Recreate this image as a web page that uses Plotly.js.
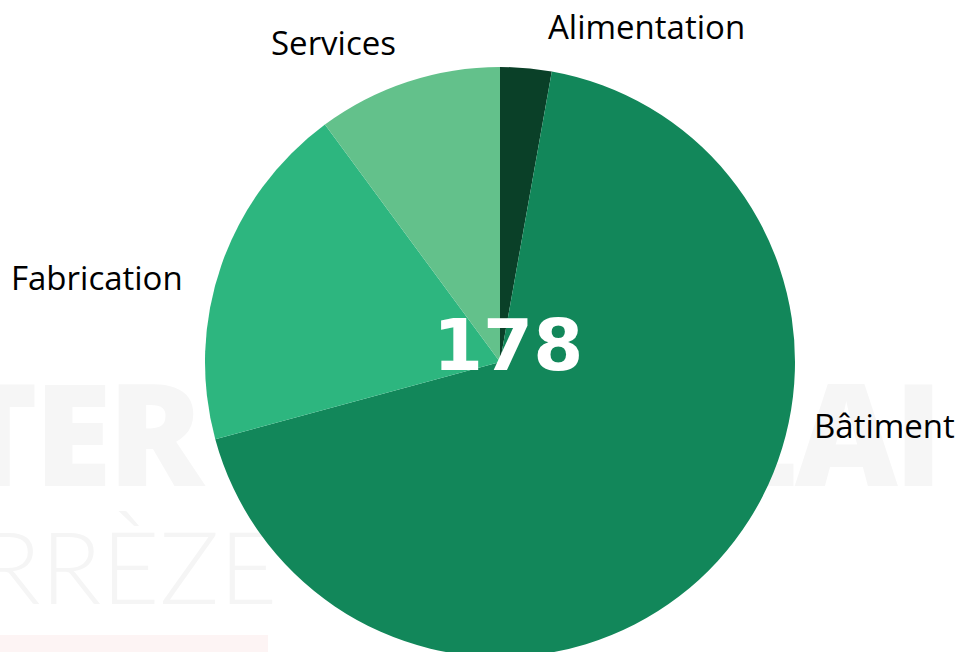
<!DOCTYPE html>
<html>
<head>
<meta charset="utf-8">
<script src="https://cdn.plot.ly/plotly-3.0.1.min.js"></script>
<style>
  html, body { margin: 0; padding: 0; background: #ffffff; overflow: hidden; width: 958px; height: 652px; }
  #wrap { position: relative; width: 958px; height: 652px; overflow: hidden; }
  .wm { position: absolute; white-space: nowrap; line-height: 1; }
  #chart { position: absolute; left: 0; top: 0; width: 958px; height: 660px; }
</style>
</head>
<body>
<div id="wrap">
  <div class="wm" style="left:-46px; top:360px; font-family:'Open Sans'; font-weight:800; font-size:142px; color:#f6f6f6; letter-spacing:-4px;">TER</div>
  <div class="wm" style="left:716px; top:360px; font-family:'Open Sans'; font-weight:800; font-size:142px; color:#f6f6f6; letter-spacing:-4px;">LAI</div>
  <div class="wm" style="left:-20px; top:515px; font-family:'Lato'; font-weight:300; font-size:100px; color:#f5f5f5;">RRÈZE</div>
  <div style="position:absolute; left:0; top:635px; width:268px; height:20px; background:#fdf4f4;"></div>
  <div id="chart"></div>
</div>
<script>
// Data
var categories = ["Alimentation", "Bâtiment", "Fabrication", "Services"];
var values = [5, 121, 34, 18];
var total = 178;

// Styles
var sliceColors = ["#0a4028", "#12875a", "#2db67f", "#63c18b"];
// Label anchor positions in paper coordinates (layout only)
var labelPos = [
  {x: 0.749, y: 1.068},
  {x: 1.151, y: 0.393},
  {x: -0.183, y: 0.644},
  {x: 0.217, y: 1.041}
];

var trace = {
  type: "pie",
  labels: categories,
  values: values,
  sort: false,
  direction: "clockwise",
  rotation: 0,
  marker: { colors: sliceColors, line: { width: 0 } },
  textinfo: "none",
  hoverinfo: "label+value",
  showlegend: false
};

var annotations = categories.map(function (c, i) {
  return {
    text: c, xref: "paper", yref: "paper",
    x: labelPos[i].x, y: labelPos[i].y,
    xanchor: "center", yanchor: "middle", showarrow: false,
    font: { family: "Open Sans", size: 33, color: "#000000" }
  };
});
annotations.push({
  text: String(total), xref: "paper", yref: "paper",
  x: 0.5136, y: 0.529, xanchor: "center", yanchor: "middle", showarrow: false,
  font: { family: "DejaVu Sans", size: 72, color: "#ffffff", weight: "bold" }
});

var layout = {
  width: 958, height: 660,
  margin: { l: 205, r: 163, t: 67, b: 3, pad: 0 },
  paper_bgcolor: "rgba(0,0,0,0)",
  plot_bgcolor: "rgba(0,0,0,0)",
  showlegend: false,
  annotations: annotations
};

Plotly.newPlot("chart", [trace], layout, { displayModeBar: false, staticPlot: true });
</script>
</body>
</html>
